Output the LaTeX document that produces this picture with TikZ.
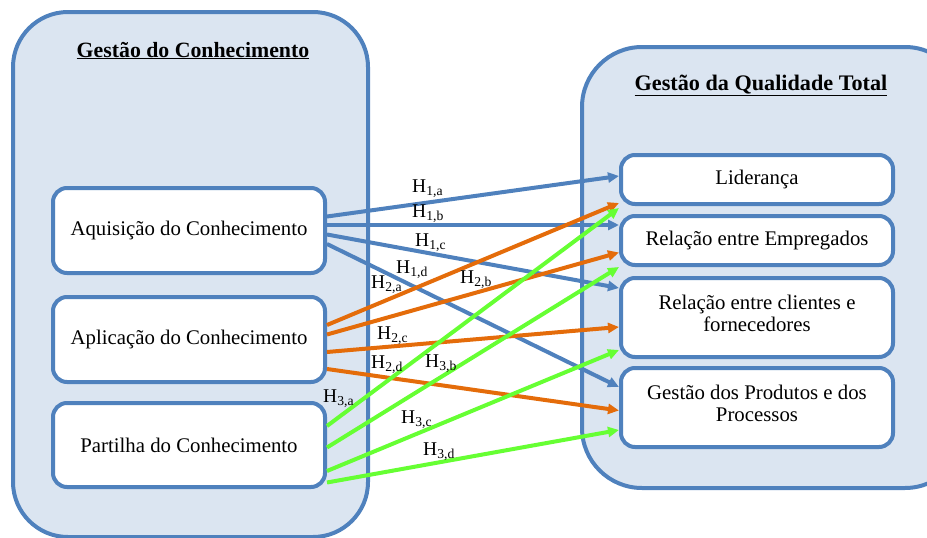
\documentclass[tikz,border=0pt]{standalone}
\usepackage{fontspec}
\setmainfont{Liberation Serif}
\usetikzlibrary{arrows.meta,calc}
\definecolor{bordblue}{HTML}{4F81BD}
\definecolor{fillblue}{HTML}{DBE5F1}
\definecolor{arrorange}{HTML}{E46C0A}
\definecolor{arrgreen}{HTML}{66FF33}
\definecolor{arrblue}{HTML}{4F81BD}
\begin{document}
\begin{tikzpicture}[x=1pt,y=-1pt,
  bigbox/.style={draw=bordblue,fill=fillblue,line width=4pt,rounded corners=55pt,inner sep=0pt},
  itembox/.style={draw=bordblue,fill=white,line width=4pt,rounded corners=14pt,inner sep=0pt,minimum width=272pt,font=\fontsize{20.8}{22}\selectfont,align=center},
  gtitle/.style={font=\fontsize{21.8}{24}\selectfont\bfseries,inner sep=0pt,anchor=base},
  hlabel/.style={font=\fontsize{19.5}{22}\selectfont,inner sep=0pt,anchor=base west},
  link/.style={line width=4pt,-{Triangle[length=11pt,width=10pt]}},
  ]
\clip (0,0) rectangle (927,538);
% big containers
\node[bigbox,minimum width=355pt,minimum height=525pt] (gc) at (190.5,274.5) {};
\node[bigbox,rounded corners=60pt,minimum width=383pt,minimum height=441pt] (gq) at (773.5,267.5) {};
% titles
\node[gtitle] (t1) at (193,57) {\underline{Gestão do Conhecimento}};
\node[gtitle,font=\fontsize{22.2}{24}\selectfont\bfseries] (t2) at (761,90) {\underline{Gestão da Qualidade Total}};
% left items
\node[itembox,minimum height=85pt] (aq) at (189,230.5) {Aquisição do Conhecimento};
\node[itembox,minimum height=85pt] (ap) at (189,339.5) {Aplicação do Conhecimento};
\node[itembox,minimum height=84pt] (pa) at (189,445) {Partilha do Conhecimento};
% right items
\node[itembox,minimum height=49pt] (lid) at (757,179.5) {Liderança};
\node[itembox,minimum height=49pt] (emp) at (757,240.5) {Relação entre Empregados};
\node[itembox,minimum height=79pt] (cli) at (757,317.5) {Relação entre clientes e\\fornecedores\\[-14pt]\mbox{}};
\node[itembox,minimum height=79pt] (ges) at (757,407.5) {Gestão dos Produtos e dos\\Processos\\[-14pt]\mbox{}};
% blue arrows (H1)
\draw[link,arrblue] ($(aq.east)+(0,-14)$) -- ($(lid.west)+(0,-3.5)$);
\draw[link,arrblue] ($(aq.east)+(0,-5.5)$) -- ($(emp.west)+(0,-15.5)$);
\draw[link,arrblue] ($(aq.east)+(0,4)$) -- ($(cli.west)+(0,-29.5)$);
\draw[link,arrblue] ($(aq.east)+(0,13.5)$) -- ($(ges.west)+(0,-20.5)$);
% orange arrows (H2)
\draw[link,arrorange] ($(ap.east)+(0,-14.5)$) -- ($(lid.west)+(0,23.5)$);
\draw[link,arrorange] ($(ap.east)+(0,-5)$) -- ($(emp.west)+(0,12)$);
\draw[link,arrorange] ($(ap.east)+(0,12.5)$) -- ($(cli.west)+(0,9.5)$);
\draw[link,arrorange] ($(ap.east)+(0,29.5)$) -- ($(ges.west)+(0,3)$);
% green arrows (H3)
\draw[link,arrgreen] ($(pa.east)+(0,-19)$) -- ($(lid.west)+(0,28.5)$);
\draw[link,arrgreen] ($(pa.east)+(0,2.5)$) -- ($(emp.west)+(0,26.5)$);
\draw[link,arrgreen] ($(pa.east)+(0,26)$) -- ($(cli.west)+(0,32.5)$);
\draw[link,arrgreen] ($(pa.east)+(0,37.5)$) -- ($(ges.west)+(0,22.5)$);
% labels
\node[hlabel] (h1a) at (412,192) {H\textsubscript{1,a}};
\node[hlabel] (h1b) at (412,217) {H\textsubscript{1,b}};
\node[hlabel] (h1c) at (415,246) {H\textsubscript{1,c}};
\node[hlabel] (h1d) at (396,273) {H\textsubscript{1,d}};
\node[hlabel] (h2a) at (371,288) {H\textsubscript{2,a}};
\node[hlabel] (h2b) at (460,283) {H\textsubscript{2,b}};
\node[hlabel] (h2c) at (377,339) {H\textsubscript{2,c}};
\node[hlabel] (h2d) at (371,368) {H\textsubscript{2,d}};
\node[hlabel] (h3a) at (323,402) {H\textsubscript{3,a}};
\node[hlabel] (h3b) at (425,367) {H\textsubscript{3,b}};
\node[hlabel] (h3c) at (401,423) {H\textsubscript{3,c}};
\node[hlabel] (h3d) at (423,455) {H\textsubscript{3,d}};
\end{tikzpicture}
\end{document}
